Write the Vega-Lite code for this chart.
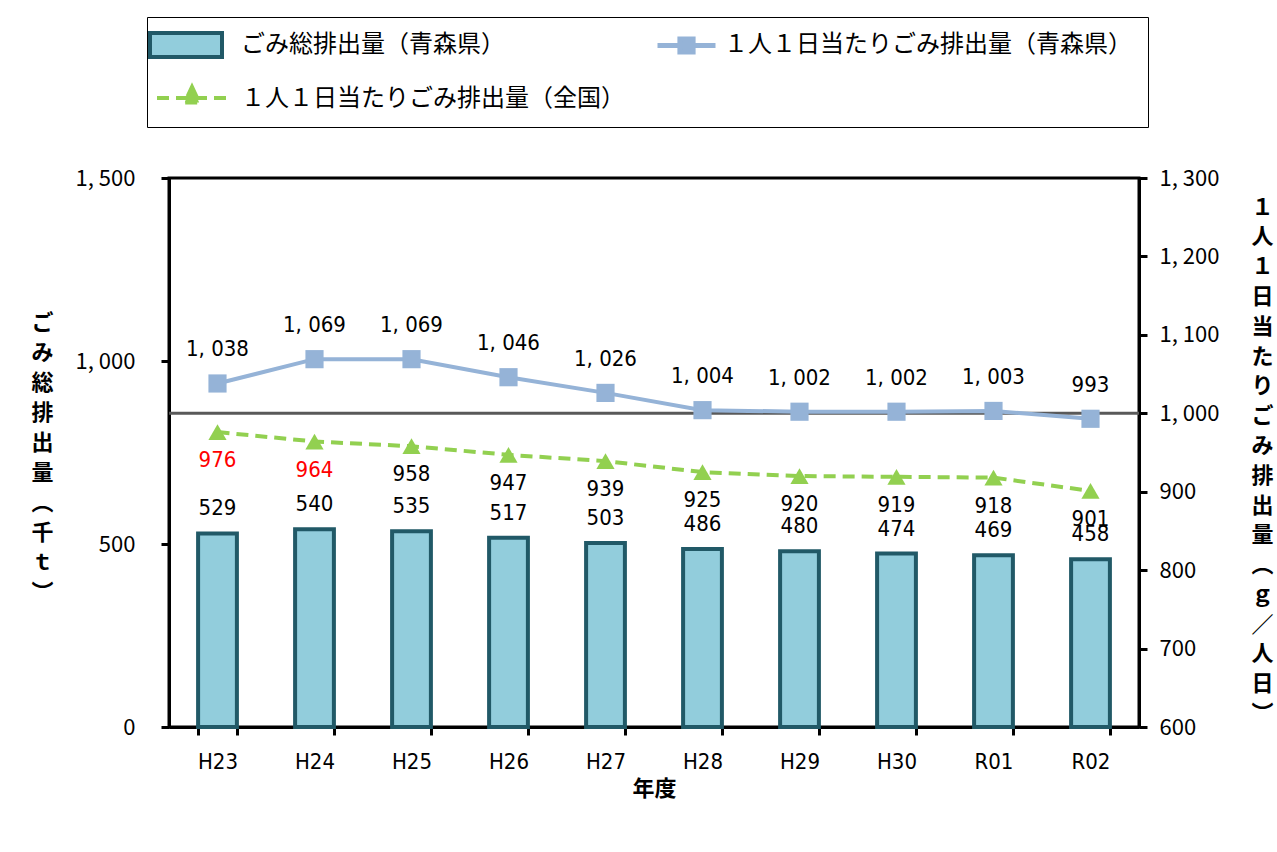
{
  "$schema": "https://vega.github.io/schema/vega-lite/v6.json",
  "width": 970,
  "height": 549,
  "autosize": {"type": "none"},
  "padding": {"left": 169, "top": 178, "right": 138, "bottom": 125},
  "background": "white",
  "config": {
    "view": {"stroke": "black", "strokeWidth": 3},
    "axis": {"grid": false, "domainColor": "black", "domainWidth": 3, "tickColor": "black", "tickWidth": 3, "tickSize": 8, "labelColor": "black", "titleColor": "black"}
  },
  "datasets": {
    "totals": [
      {"year": "H23", "series": "ごみ総排出量（青森県）", "total": 529}, {"year": "H24", "series": "ごみ総排出量（青森県）", "total": 540},
      {"year": "H25", "series": "ごみ総排出量（青森県）", "total": 535}, {"year": "H26", "series": "ごみ総排出量（青森県）", "total": 517},
      {"year": "H27", "series": "ごみ総排出量（青森県）", "total": 503}, {"year": "H28", "series": "ごみ総排出量（青森県）", "total": 486},
      {"year": "H29", "series": "ごみ総排出量（青森県）", "total": 480}, {"year": "H30", "series": "ごみ総排出量（青森県）", "total": 474},
      {"year": "R01", "series": "ごみ総排出量（青森県）", "total": 469}, {"year": "R02", "series": "ごみ総排出量（青森県）", "total": 458}
    ],
    "rates": [
      {"year": "H23", "series": "１人１日当たりごみ排出量（青森県）", "value": 1038},
      {"year": "H24", "series": "１人１日当たりごみ排出量（青森県）", "value": 1069},
      {"year": "H25", "series": "１人１日当たりごみ排出量（青森県）", "value": 1069},
      {"year": "H26", "series": "１人１日当たりごみ排出量（青森県）", "value": 1046},
      {"year": "H27", "series": "１人１日当たりごみ排出量（青森県）", "value": 1026},
      {"year": "H28", "series": "１人１日当たりごみ排出量（青森県）", "value": 1004},
      {"year": "H29", "series": "１人１日当たりごみ排出量（青森県）", "value": 1002},
      {"year": "H30", "series": "１人１日当たりごみ排出量（青森県）", "value": 1002},
      {"year": "R01", "series": "１人１日当たりごみ排出量（青森県）", "value": 1003},
      {"year": "R02", "series": "１人１日当たりごみ排出量（青森県）", "value": 993},
      {"year": "H23", "series": "１人１日当たりごみ排出量（全国）", "value": 976},
      {"year": "H24", "series": "１人１日当たりごみ排出量（全国）", "value": 964},
      {"year": "H25", "series": "１人１日当たりごみ排出量（全国）", "value": 958},
      {"year": "H26", "series": "１人１日当たりごみ排出量（全国）", "value": 947},
      {"year": "H27", "series": "１人１日当たりごみ排出量（全国）", "value": 939},
      {"year": "H28", "series": "１人１日当たりごみ排出量（全国）", "value": 925},
      {"year": "H29", "series": "１人１日当たりごみ排出量（全国）", "value": 920},
      {"year": "H30", "series": "１人１日当たりごみ排出量（全国）", "value": 919},
      {"year": "R01", "series": "１人１日当たりごみ排出量（全国）", "value": 918},
      {"year": "R02", "series": "１人１日当たりごみ排出量（全国）", "value": 901}
    ]
  },
  "layer": [
    {
      "data": {"name": "totals"},
      "encoding": {
        "x": {"field": "year", "type": "nominal", "title": "年度",
          "scale": {"paddingInner": 0.6, "paddingOuter": 0.3},
          "axis": {"tickBand": "extent", "labelAngle": 0, "labelFont": "DejaVu Sans Condensed, Roboto Condensed, Roboto", "labelFontSize": 22, "labelPadding": 16,
            "titleFont": "Noto Sans CJK JP", "titleFontSize": 22, "titleFontWeight": "bold", "titlePadding": 6}},
        "y": {"field": "total", "type": "quantitative",
          "scale": {"domain": [0, 1500], "nice": false},
          "axis": {"values": [0, 500, 1000, 1500], "labelExpr": "replace(format(datum.value, ','), ',', ', ')",
            "labelFont": "Noto Sans CJK JP", "labelFontSize": 22, "labelPadding": 26,
            "titleAngle": 0, "titleX": -127, "titleY": 144, "titleAlign": "center", "titleBaseline": "middle",
            "titleFont": "Noto Sans CJK JP", "titleFontSize": 22, "titleFontWeight": "bold", "titleLineHeight": 30},
          "title": ["ご", "み", "総", "排", "出", "量", "︵", "千", "ｔ", "︶"]}
      },
      "layer": [
        {
          "mark": {"type": "bar", "strokeWidth": 4},
          "encoding": {
            "color": {"field": "series", "type": "nominal",
              "scale": {"domain": ["ごみ総排出量（青森県）", "１人１日当たりごみ排出量（全国）", "１人１日当たりごみ排出量（青森県）"],
                        "range": ["#92CDDC", "#92D050", "#95B3D7"]},
              "legend": {
                "orient": "none", "legendX": -22, "legendY": -161, "columns": 2, "title": null, "zindex": 1,
                "symbolSize": 400, "symbolOpacity": 0, "labelFontSize": 24, "labelFont": "Noto Sans CJK JP", "labelColor": "black", "labelLimit": 700,
                "columnPadding": 21, "rowPadding": 30, "padding": 16, "labelOffset": 54,
                "strokeColor": "black", "fillColor": "white"
              }},
            "stroke": {"datum": "ごみ総排出量（青森県）", "type": "nominal",
              "scale": {"domain": ["ごみ総排出量（青森県）"], "range": ["#215967"]},
              "legend": {
                "orient": "none", "legendX": -5, "legendY": -155, "title": null, "zindex": 2,
                "symbolType": "M-1.8,-0.6H1.8V0.6H-1.8Z", "symbolSize": 1600, "symbolFillColor": "#92CDDC", "symbolStrokeWidth": 4, "symbolOpacity": 1,
                "labelExpr": "''", "labelFontSize": 1, "labelOffset": 0, "padding": 0
              }}
          }
        },
        {
          "mark": {"type": "text", "font": "DejaVu Sans Condensed, Roboto Condensed, Roboto", "fontSize": 22, "dy": -25, "baseline": "middle", "color": "black"},
          "encoding": {"text": {"field": "total", "type": "quantitative"}}
        }
      ]
    },
    {
      "data": {"name": "rates"},
      "transform": [{"calculate": "replace(format(datum.value, ','), ',', ', ')", "as": "lbl"}],
      "encoding": {
        "y": {"field": "value", "type": "quantitative",
          "scale": {"domain": [600, 1300], "nice": false},
          "axis": {"orient": "right", "values": [600, 700, 800, 900, 1000, 1100, 1200, 1300],
            "labelExpr": "replace(format(datum.value, ','), ',', ', ')",
            "labelFont": "Noto Sans CJK JP", "labelFontSize": 22, "labelPadding": 12,
            "titleAngle": 0, "titleX": 123, "titleY": 29, "titleAlign": "center", "titleBaseline": "middle",
            "titleFont": "Noto Sans CJK JP", "titleFontSize": 22, "titleFontWeight": "bold", "titleLineHeight": 29.8},
          "title": ["１", "人", "１", "日", "当", "た", "り", "ご", "み", "排", "出", "量", "︵", "ｇ", "／", "人", "日", "︶"]}
      },
      "layer": [
        {
          "data": {"values": [{"ref": 1000}]},
          "mark": {"type": "rule", "color": "#595959", "strokeWidth": 3},
          "encoding": {"y": {"field": "ref", "type": "quantitative"}}
        },
        {
          "transform": [{"filter": "datum.series === '１人１日当たりごみ排出量（青森県）'"}],
          "mark": {"type": "line", "strokeWidth": 4, "color": "#95B3D7"},
          "encoding": {"x": {"field": "year", "type": "nominal"}}
        },
        {
          "transform": [{"filter": "datum.series === '１人１日当たりごみ排出量（青森県）'"}],
          "mark": {"type": "point", "shape": "square", "filled": true, "opacity": 1, "size": 330},
          "encoding": {
            "x": {"field": "year", "type": "nominal"},
            "fill": {"datum": "１人１日当たりごみ排出量（青森県）", "type": "nominal",
              "scale": {"domain": ["１人１日当たりごみ排出量（青森県）"], "range": ["#95B3D7"]},
              "legend": {
                "orient": "none", "legendX": 495, "legendY": -155, "title": null, "zindex": 2,
                "symbolType": "M-1.45,0H1.45 M-0.33,-0.33H0.33V0.33H-0.33Z", "symbolSize": 1600, "symbolStrokeColor": "#95B3D7", "symbolStrokeWidth": 5, "symbolOpacity": 1,
                "labelExpr": "''", "labelFontSize": 1, "labelOffset": 0, "padding": 0
              }}
          }
        },
        {
          "transform": [{"filter": "datum.series === '１人１日当たりごみ排出量（全国）'"}],
          "mark": {"type": "line", "strokeWidth": 4, "color": "#92D050"},
          "encoding": {
            "x": {"field": "year", "type": "nominal"},
            "strokeDash": {"datum": "１人１日当たりごみ排出量（全国）", "type": "nominal",
              "scale": {"domain": ["１人１日当たりごみ排出量（全国）"], "range": [[12, 7]]},
              "legend": {
                "orient": "none", "legendX": 1, "legendY": -102, "title": null, "zindex": 2,
                "symbolType": "M-1.75,0H1.75 M0,-0.55L0.36,0.22H-0.36Z", "symbolSize": 1600, "symbolStrokeColor": "#92D050", "symbolFillColor": "#92D050", "symbolStrokeWidth": 4, "symbolOpacity": 1,
                "labelExpr": "''", "labelFontSize": 1, "labelOffset": 0, "padding": 0
              }}
          }
        },
        {
          "transform": [{"filter": "datum.series === '１人１日当たりごみ排出量（全国）'"}],
          "mark": {"type": "point", "shape": "triangle-up", "filled": true, "opacity": 1, "size": 330, "color": "#92D050"},
          "encoding": {"x": {"field": "year", "type": "nominal"}}
        },
        {
          "transform": [{"filter": "datum.series === '１人１日当たりごみ排出量（青森県）'"}],
          "mark": {"type": "text", "font": "DejaVu Sans Condensed, Roboto Condensed, Roboto", "fontSize": 22, "dy": -34, "baseline": "middle", "color": "black"},
          "encoding": {"x": {"field": "year", "type": "nominal"}, "text": {"field": "lbl"}}
        },
        {
          "transform": [{"filter": "datum.series === '１人１日当たりごみ排出量（全国）'"}],
          "mark": {"type": "text", "font": "DejaVu Sans Condensed, Roboto Condensed, Roboto", "fontSize": 22, "dy": 28, "baseline": "middle"},
          "encoding": {"x": {"field": "year", "type": "nominal"}, "text": {"field": "lbl"},
            "color": {"condition": {"test": "datum.value >= 960", "value": "#FF0000"}, "value": "black"}}
        }
      ]
    }
  ],
  "resolve": {"scale": {"y": "independent"}}
}
